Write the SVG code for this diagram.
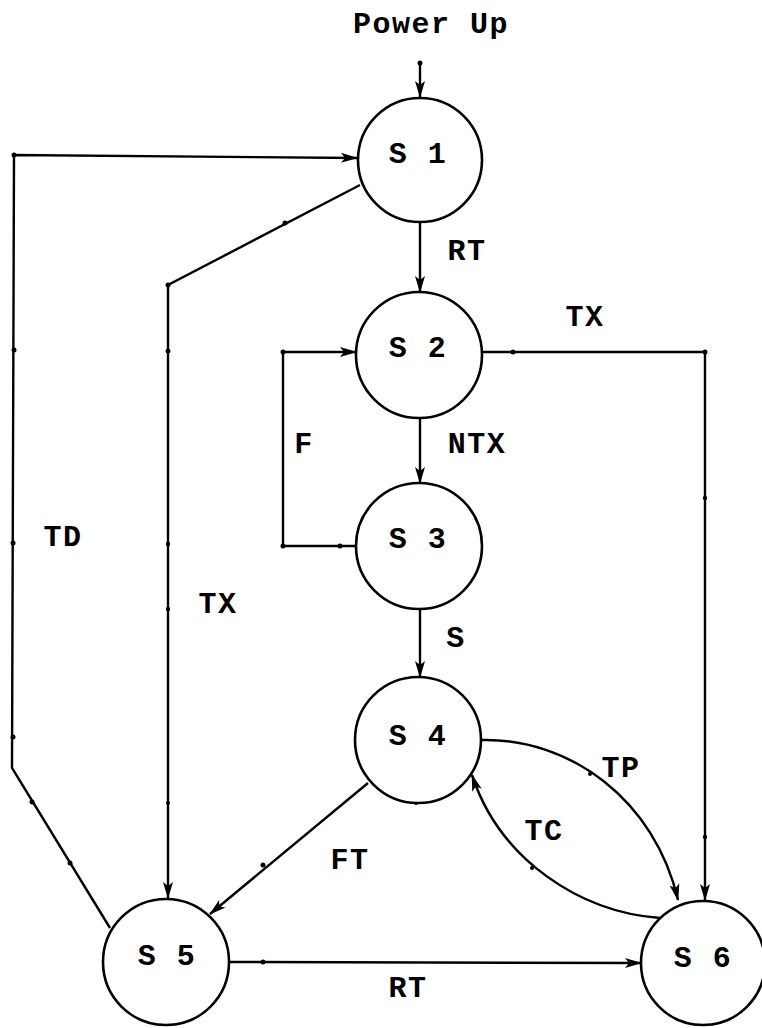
<svg xmlns="http://www.w3.org/2000/svg" width="762" height="1028" viewBox="0 0 762 1028">
<style>
.n{fill:#fff;stroke:#000;stroke-width:2.6}
.e{fill:none;stroke:#000;stroke-width:2.4}
.t{font-family:"Liberation Mono","DejaVu Sans Mono",monospace;font-weight:bold;font-size:30px;letter-spacing:1.5px;fill:#000}
.d{fill:#000}
</style>
<defs>
<marker id="a" viewBox="0 0 17 11" refX="16" refY="5.5" markerWidth="17" markerHeight="11" markerUnits="userSpaceOnUse" orient="auto">
<path d="M0,0.5 L17,5.5 L0,10.5 L4,5.5 Z" fill="#000"/>
</marker>
</defs>
<text class="t" x="431" y="33" text-anchor="middle">Power Up</text>
<g id="connectors">
<path class="e" d="M420,63 L420,97" marker-end="url(#a)"/>
<path class="e" d="M420,222 L420,292" marker-end="url(#a)"/>
<path class="e" d="M482,352 L705,352 L705,900" marker-end="url(#a)"/>
<path class="e" d="M420,418 L420,483" marker-end="url(#a)"/>
<path class="e" d="M357,546 L283,546 L283,352 L356,352" marker-end="url(#a)"/>
<path class="e" d="M420,608 L420,677" marker-end="url(#a)"/>
<path class="e" d="M482,740 C570,738 655,800 678,900" marker-end="url(#a)"/>
<path class="e" d="M660,918 C580,912 500,860 472,775" marker-end="url(#a)"/>
<path class="e" d="M368,783 L210,914" marker-end="url(#a)"/>
<path class="e" d="M360,185 L168,285 L168,898" marker-end="url(#a)"/>
<path class="e" d="M110,928 L12,768 L14,155 L357,158" marker-end="url(#a)"/>
<path class="e" d="M230,962 L641,963" marker-end="url(#a)"/>
<g class="d">
<circle cx="420" cy="63" r="2.5"/>
<circle cx="513" cy="352" r="2.5"/>
<circle cx="705" cy="352" r="2.5"/>
<circle cx="705" cy="498" r="2.2"/>
<circle cx="705" cy="837" r="2.2"/>
<circle cx="340" cy="546" r="2.5"/>
<circle cx="283" cy="546" r="2.5"/>
<circle cx="283" cy="352" r="2.5"/>
<circle cx="590" cy="774" r="2"/>
<circle cx="532" cy="868" r="2"/>
<circle cx="263" cy="865" r="2.5"/>
<circle cx="285" cy="223" r="2.5"/>
<circle cx="168" cy="285" r="2.5"/>
<circle cx="168" cy="351" r="2.5"/>
<circle cx="168" cy="544" r="2.2"/>
<circle cx="168" cy="609" r="2.2"/>
<circle cx="168" cy="803" r="2"/>
<circle cx="32" cy="802" r="2.5"/>
<circle cx="70" cy="863" r="2.5"/>
<circle cx="13" cy="737" r="2.5"/>
<circle cx="13" cy="543" r="2.5"/>
<circle cx="14" cy="350" r="2.5"/>
<circle cx="14" cy="155" r="2.5"/>
<circle cx="263" cy="962" r="2.5"/>
<circle cx="416" cy="803" r="2"/>
</g>
</g>
<g id="S1"><circle class="n" cx="420" cy="160" r="62"/><text class="t" x="418" y="163" text-anchor="middle">S 1</text></g>
<g id="S2"><circle class="n" cx="419" cy="355" r="63"/><text class="t" x="418" y="357" text-anchor="middle">S 2</text></g>
<g id="S3"><circle class="n" cx="419" cy="546" r="63"/><text class="t" x="418" y="548" text-anchor="middle">S 3</text></g>
<g id="S4"><circle class="n" cx="418" cy="740" r="63"/><text class="t" x="418" y="745" text-anchor="middle">S 4</text></g>
<g id="S5"><circle class="n" cx="166" cy="962" r="63"/><text class="t" x="167" y="965" text-anchor="middle">S 5</text></g>
<g id="S6"><circle class="n" cx="703" cy="963" r="62"/><text class="t" x="703" y="967" text-anchor="middle">S 6</text></g>
<g id="labels">
<text class="t" x="467" y="260" text-anchor="middle">RT</text>
<text class="t" x="585" y="326" text-anchor="middle">TX</text>
<text class="t" x="477" y="453" text-anchor="middle">NTX</text>
<text class="t" x="304" y="453" text-anchor="middle">F</text>
<text class="t" x="456" y="647" text-anchor="middle">S</text>
<text class="t" x="621" y="777" text-anchor="middle">TP</text>
<text class="t" x="544" y="840" text-anchor="middle">TC</text>
<text class="t" x="350" y="869" text-anchor="middle">FT</text>
<text class="t" x="408" y="997" text-anchor="middle">RT</text>
<text class="t" x="218" y="613" text-anchor="middle">TX</text>
<text class="t" x="63" y="546" text-anchor="middle">TD</text>
</g>
</svg>
